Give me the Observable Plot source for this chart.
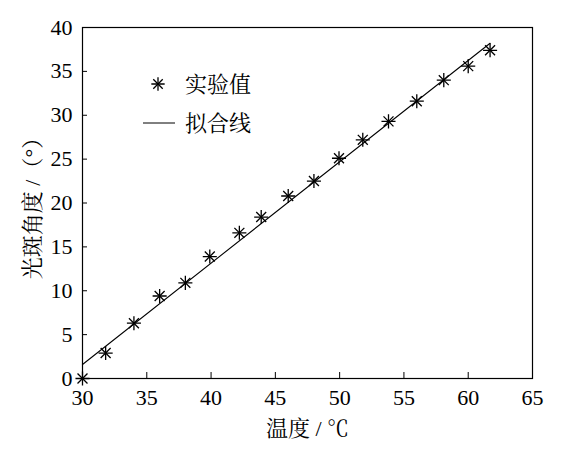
<!DOCTYPE html>
<html>
<head>
<meta charset="utf-8">
<script src="https://cdn.jsdelivr.net/npm/d3@7"></script>
<script src="https://cdn.jsdelivr.net/npm/@observablehq/plot@0.6"></script>
<style>
  html, body { margin: 0; padding: 0; background: #fff; }
</style>
</head>
<body>
<div id="chart"></div>
<script>
const temps  = [30, 31.8, 34, 36, 38, 39.9, 42.2, 43.9, 46, 48, 49.95, 51.8, 53.8, 56, 58.1, 60, 61.7];
const angles = [0, 2.9, 6.3, 9.4, 10.9, 13.9, 16.6, 18.4, 20.8, 22.5, 25.1, 27.2, 29.3, 31.6, 34.0, 35.6, 37.4];
// Fitted line endpoints
const fitX = [30, 61.7];
const fitY = [1.6, 38.2];
// Tick values
const xTicks = [30, 35, 40, 45, 50, 55, 60, 65];
const yTicks = [0, 5, 10, 15, 20, 25, 30, 35, 40];
// Labels
const xLabel = "温度 / ℃";
const yLabel = "光斑角度 /（°）";
const legendLabels = ["实验值", "拟合线"];

const points = temps.map((t, i) => ({t, a: angles[i]}));
const fit = fitX.map((t, i) => ({t, a: fitY[i]}));

const font = "'Liberation Serif', 'Noto Serif CJK SC', serif";

const chart = Plot.plot({
  width: 574,
  height: 451,
  marginLeft: 82,
  marginRight: 42,
  marginTop: 27,
  marginBottom: 73,
  style: {fontFamily: font, fontSize: "22px", color: "#000", background: "#fff", overflow: "visible"},
  x: {domain: [30, 65]},
  y: {domain: [0, 40]},
  marks: [
    Plot.axisX(xTicks, {tickSize: -6, tickFormat: () => "", label: null, stroke: "#000"}),
    Plot.axisX(xTicks, {tickSize: 0, tickPadding: 11, fontSize: 22, label: xLabel, labelAnchor: "center", labelOffset: 57, labelArrow: "none"}),
    Plot.axisY(yTicks, {tickSize: -5, tickFormat: () => "", label: null, stroke: "#000"}),
    Plot.axisY(yTicks, {tickSize: 0, tickPadding: 10, fontSize: 22, label: yLabel, labelAnchor: "center", labelOffset: 58, labelArrow: "none"}),
    Plot.frame({stroke: "#000", strokeWidth: 1.2}),
    Plot.line(fit, {x: "t", y: "a", stroke: "#000", strokeWidth: 1.1}),
    Plot.dot(points, {x: "t", y: "a", symbol: "plus", r: 4.6, stroke: "#000", strokeWidth: 1.3}),
    Plot.dot(points, {x: "t", y: "a", symbol: "times", r: 4.6, stroke: "#000", strokeWidth: 1.3})
  ]
});

// Legend inside the plot area (top-left)
const svg = d3.select(chart);
const lg = svg.append("g").attr("text-anchor", "start");
[d3.symbolPlus, d3.symbolTimes].forEach(s => {
  lg.append("path")
    .attr("d", d3.symbol(s, 60)())
    .attr("transform", "translate(158,84)")
    .attr("fill", "none").attr("stroke", "#000").attr("stroke-width", 1.3);
});
lg.append("text").attr("x", 185).attr("y", 84).attr("dy", "0.35em").text(legendLabels[0]);
lg.append("line").attr("x1", 143).attr("x2", 175).attr("y1", 123).attr("y2", 123)
  .attr("stroke", "#000").attr("stroke-width", 1);
lg.append("text").attr("x", 185).attr("y", 123).attr("dy", "0.35em").text(legendLabels[1]);

// Force the serif font on every text element
svg.selectAll("text").style("font-family", font).style("font-size", "22px").attr("fill", "#000");

document.getElementById("chart").appendChild(chart);
</script>
</body>
</html>
